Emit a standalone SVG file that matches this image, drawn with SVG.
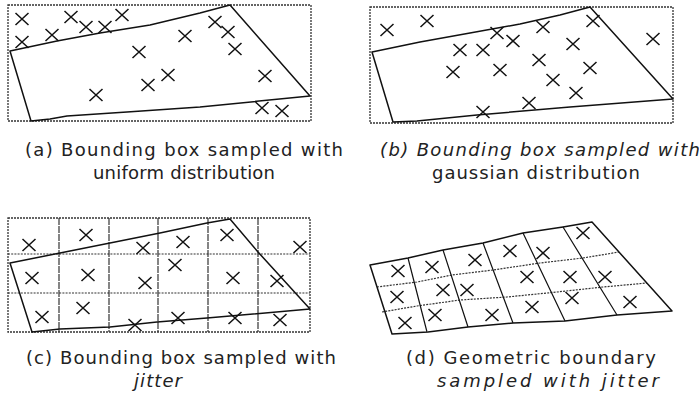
<svg xmlns="http://www.w3.org/2000/svg" xmlns:xlink="http://www.w3.org/1999/xlink" width="699" height="400" viewBox="0 0 699 400">
<style>
.bg{fill:#fff}
.box{fill:none;stroke:#333;stroke-width:1.3;stroke-dasharray:2 1}
.gridh{fill:none;stroke:#333;stroke-width:1.2;stroke-dasharray:2 1.2}
.gridv{fill:none;stroke:#222;stroke-width:1.1;stroke-dasharray:7 1}
.shape{fill:none;stroke:#111;stroke-width:1.5;stroke-linejoin:round}
.div{fill:none;stroke:#111;stroke-width:1.2}
.cap{font-family:"DejaVu Sans","Liberation Sans",sans-serif;font-size:18px;fill:#222}
.it{font-style:italic}
</style>
<defs>
<path id="x" d="M-6.5,-6 L6.5,6 M6.5,-6 L-6.5,6" fill="none" stroke="#111" stroke-width="1.5"/>
</defs>
<rect class="bg" width="699" height="400"/>

<g id="panel-a">
<rect class="box" x="8" y="5" width="303" height="116"/>
<path class="shape" d="M10,51 L57,41 L100,33 L150,25 L200,13 L230,5 L310,96 L200,107 L127,112 L67,116 L50,119 L31,121 Z"/>
<use xlink:href="#x" x="22" y="19"/>
<use xlink:href="#x" x="71" y="17"/>
<use xlink:href="#x" x="86" y="27"/>
<use xlink:href="#x" x="105" y="27"/>
<use xlink:href="#x" x="122" y="15"/>
<use xlink:href="#x" x="22" y="42"/>
<use xlink:href="#x" x="52" y="35"/>
<use xlink:href="#x" x="185" y="36"/>
<use xlink:href="#x" x="215" y="22"/>
<use xlink:href="#x" x="228" y="32"/>
<use xlink:href="#x" x="235" y="49"/>
<use xlink:href="#x" x="139" y="52"/>
<use xlink:href="#x" x="168" y="75"/>
<use xlink:href="#x" x="148" y="85"/>
<use xlink:href="#x" x="96" y="95"/>
<use xlink:href="#x" x="265" y="76"/>
<use xlink:href="#x" x="262" y="108"/>
<use xlink:href="#x" x="282" y="111"/>
<text class="cap" x="25" y="156" textLength="318" lengthAdjust="spacing">(a) Bounding box sampled with</text>
<text class="cap" x="93" y="179" textLength="182" lengthAdjust="spacing">uniform distribution</text>
</g>

<g id="panel-b">
<rect class="box" x="370" y="7" width="303" height="116"/>
<path class="shape" d="M372,52 L420,42 L470,33 L520,24 L560,15 L590,7 L673,99 L570,107 L477,115 L417,121 L393,122 Z"/>
<use xlink:href="#x" x="387" y="30"/>
<use xlink:href="#x" x="427" y="21"/>
<use xlink:href="#x" x="497" y="33"/>
<use xlink:href="#x" x="513" y="41"/>
<use xlink:href="#x" x="543" y="27"/>
<use xlink:href="#x" x="593" y="21"/>
<use xlink:href="#x" x="653" y="39"/>
<use xlink:href="#x" x="460" y="50"/>
<use xlink:href="#x" x="483" y="50"/>
<use xlink:href="#x" x="573" y="44"/>
<use xlink:href="#x" x="539" y="60"/>
<use xlink:href="#x" x="453" y="72"/>
<use xlink:href="#x" x="500" y="70"/>
<use xlink:href="#x" x="590" y="68"/>
<use xlink:href="#x" x="553" y="80"/>
<use xlink:href="#x" x="576" y="93"/>
<use xlink:href="#x" x="529" y="103"/>
<use xlink:href="#x" x="483" y="112"/>
<text class="cap it" x="380" y="156" textLength="320" lengthAdjust="spacing">(b) Bounding box sampled with</text>
<text class="cap" x="432" y="179" textLength="208" lengthAdjust="spacing">gaussian distribution</text>
</g>

<g id="panel-c">
<path class="gridh" d="M8,254 L310,254 M8,293 L310,293"/>
<path class="gridv" d="M59,218 L59,332 M109,218 L109,332 M158,218 L158,332 M208,218 L208,332 M258,218 L258,332"/>
<rect class="box" x="8" y="218" width="302" height="114"/>
<path class="shape" d="M10,263 L60,253 L110,243 L160,233 L207,223 L230,219 L258,252 L310,309 L207,318 L157,322 L110,327 L60,329 L32,332 Z"/>
<use xlink:href="#x" x="29" y="245"/>
<use xlink:href="#x" x="86" y="235"/>
<use xlink:href="#x" x="143" y="248"/>
<use xlink:href="#x" x="183" y="242"/>
<use xlink:href="#x" x="227" y="235"/>
<use xlink:href="#x" x="300" y="247"/>
<use xlink:href="#x" x="175" y="265"/>
<use xlink:href="#x" x="32" y="278"/>
<use xlink:href="#x" x="88" y="275"/>
<use xlink:href="#x" x="145" y="283"/>
<use xlink:href="#x" x="233" y="278"/>
<use xlink:href="#x" x="277" y="281"/>
<use xlink:href="#x" x="42" y="317"/>
<use xlink:href="#x" x="83" y="308"/>
<use xlink:href="#x" x="135" y="325"/>
<use xlink:href="#x" x="178" y="318"/>
<use xlink:href="#x" x="235" y="318"/>
<use xlink:href="#x" x="280" y="320"/>
<text class="cap" x="26" y="364" textLength="310" lengthAdjust="spacing">(c) Bounding box sampled with</text>
<text class="cap it" x="134" y="387" textLength="48" lengthAdjust="spacing">jitter</text>
</g>

<g id="panel-d">
<path class="gridh" d="M377,287 L417,282 L452,275 L493,270 L540,263 L583,258 L619,252 M382,312 L417,306 L460,300 L507,297 L557,292 L603,287 L647,283"/>
<path class="div" d="M408,258 L427,332 M443,250 L468,327 M483,243 L513,323 M523,233 L565,321 M563,227 L617,315"/>
<path class="shape" d="M370,265 L408,258 L443,250 L483,243 L523,233 L563,227 L592,222 L672,311 L617,315 L565,321 L513,323 L468,327 L428,332 L392,334 Z"/>
<use xlink:href="#x" x="583" y="233"/>
<use xlink:href="#x" x="510" y="251"/>
<use xlink:href="#x" x="543" y="253"/>
<use xlink:href="#x" x="475" y="260"/>
<use xlink:href="#x" x="398" y="271"/>
<use xlink:href="#x" x="432" y="267"/>
<use xlink:href="#x" x="527" y="277"/>
<use xlink:href="#x" x="570" y="277"/>
<use xlink:href="#x" x="605" y="277"/>
<use xlink:href="#x" x="397" y="297"/>
<use xlink:href="#x" x="443" y="290"/>
<use xlink:href="#x" x="467" y="290"/>
<use xlink:href="#x" x="572" y="298"/>
<use xlink:href="#x" x="630" y="302"/>
<use xlink:href="#x" x="405" y="323"/>
<use xlink:href="#x" x="435" y="315"/>
<use xlink:href="#x" x="492" y="315"/>
<use xlink:href="#x" x="532" y="307"/>
<text class="cap" x="406" y="364" textLength="250" lengthAdjust="spacing">(d) Geometric boundary</text>
<text class="cap it" x="437" y="387" textLength="222" lengthAdjust="spacing">sampled with jitter</text>
</g>
</svg>
